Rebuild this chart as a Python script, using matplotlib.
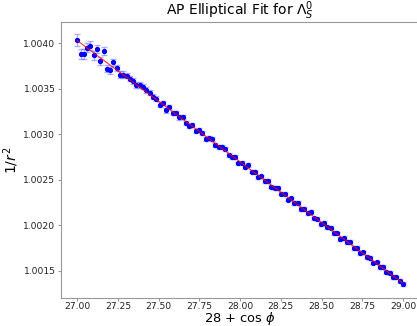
import numpy as np
import matplotlib
matplotlib.use("Agg")
import matplotlib.pyplot as plt
from matplotlib.ticker import FormatStrFormatter, MultipleLocator

# x = 28 + cos(phi), evenly sampled from 27 to 29
x = np.linspace(27.0, 29.0, 100)

inv_r2 = [
    1.004036, 1.003880, 1.003880, 1.003949, 1.003971, 1.003866, 1.003938, 1.003808, 1.003917, 1.003721,
    1.003703, 1.003790, 1.003728, 1.003656, 1.003656, 1.003645, 1.003612, 1.003587, 1.003540, 1.003540,
    1.003522, 1.003486, 1.003457, 1.003413, 1.003391, 1.003324, 1.003345, 1.003262, 1.003299, 1.003232,
    1.003234, 1.003186, 1.003187, 1.003128, 1.003090, 1.003097, 1.003041, 1.003049, 1.003011, 1.002947,
    1.002960, 1.002947, 1.002883, 1.002864, 1.002858, 1.002842, 1.002772, 1.002754, 1.002753, 1.002681,
    1.002690, 1.002638, 1.002662, 1.002590, 1.002586, 1.002527, 1.002538, 1.002487, 1.002487, 1.002426,
    1.002410, 1.002412, 1.002348, 1.002342, 1.002283, 1.002296, 1.002243, 1.002248, 1.002181, 1.002178,
    1.002133, 1.002145, 1.002076, 1.002075, 1.002016, 1.002025, 1.001978, 1.001976, 1.001915, 1.001912,
    1.001851, 1.001863, 1.001818, 1.001818, 1.001755, 1.001752, 1.001696, 1.001704, 1.001654, 1.001641,
    1.001592, 1.001594, 1.001544, 1.001546, 1.001487, 1.001478, 1.001430, 1.001429, 1.001387, 1.001353,
]

inv_r2_err = [
    6.5e-5, 5.5e-5, 5.5e-5, 5.0e-5, 5.0e-5, 5.0e-5, 4.5e-5, 4.5e-5, 4.5e-5, 4.0e-5,
    4.0e-5, 4.0e-5, 3.5e-5, 3.5e-5, 3.5e-5, 3.0e-5, 3.0e-5, 3.0e-5, 3.0e-5, 3.0e-5,
    2.8e-5, 2.8e-5, 2.8e-5, 2.6e-5, 2.6e-5, 2.6e-5, 2.5e-5, 2.5e-5, 2.5e-5, 2.4e-5,
    2.4e-5, 2.4e-5, 2.3e-5, 2.3e-5, 2.3e-5, 2.2e-5, 2.2e-5, 2.2e-5, 2.2e-5, 2.2e-5,
    2.1e-5, 2.1e-5, 2.1e-5, 2.1e-5, 2.1e-5, 2.0e-5, 2.0e-5, 2.0e-5, 2.0e-5, 2.0e-5,
    2.0e-5, 2.0e-5, 2.0e-5, 2.0e-5, 2.0e-5, 2.0e-5, 2.0e-5, 2.0e-5, 2.0e-5, 2.0e-5,
    2.0e-5, 2.0e-5, 2.0e-5, 2.0e-5, 2.0e-5, 2.0e-5, 2.0e-5, 2.0e-5, 2.0e-5, 2.0e-5,
    2.0e-5, 2.0e-5, 2.0e-5, 2.0e-5, 2.0e-5, 2.0e-5, 2.0e-5, 2.0e-5, 2.0e-5, 2.0e-5,
    2.0e-5, 2.0e-5, 2.0e-5, 2.0e-5, 2.0e-5, 2.0e-5, 2.0e-5, 2.0e-5, 2.0e-5, 2.0e-5,
    2.0e-5, 2.0e-5, 2.0e-5, 2.0e-5, 2.0e-5, 2.0e-5, 2.0e-5, 2.0e-5, 2.0e-5, 2.0e-5,
]

# linear fit line endpoints
fit_x = [27.0, 29.0]
fit_y = [1.004028, 1.001366]

fig = plt.figure(figsize=(4.17, 3.26), dpi=100)
ax = fig.add_axes([0.1463, 0.086, 0.859, 0.846])

ax.errorbar(x, inv_r2, yerr=inv_r2_err, fmt="o", color="blue", markersize=2.8,
            ecolor=(0.4, 0.4, 1.0, 0.5), elinewidth=1.0, capsize=2.2, zorder=2)
ax.plot(fit_x, fit_y, color="red", linewidth=0.8, alpha=0.8, zorder=3)

ax.set_xlim(26.9, 29.1)
ax.set_ylim(1.001203, 1.004231)
ax.xaxis.set_major_locator(MultipleLocator(0.25))
ax.yaxis.set_major_locator(MultipleLocator(0.0005))
ax.xaxis.set_major_formatter(FormatStrFormatter("%.2f"))
ax.yaxis.set_major_formatter(FormatStrFormatter("%.4f"))

for s in ax.spines.values():
    s.set_color("#999999")
ax.tick_params(colors="#999999", labelcolor="#222222", labelsize=6.6, length=2.5, pad=1.5)
ax.tick_params(axis="x", pad=1.0, length=2)

ax.set_title(r"AP Elliptical Fit for $\Lambda_S^0$", fontsize=10, pad=3)
ax.set_xlabel(r"28 + cos $\phi$", fontsize=9.4, labelpad=-0.6)
ax.set_ylabel(r"$1/r^2$", fontsize=10, labelpad=2)

fig.savefig("out.png", dpi=100)
